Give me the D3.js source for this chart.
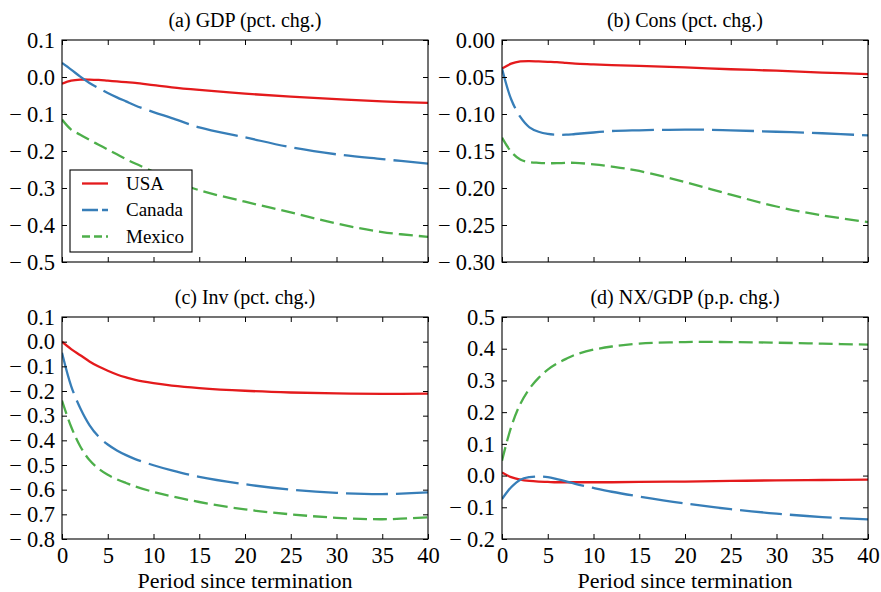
<!DOCTYPE html>
<html>
<head>
<meta charset="utf-8">
<script src="https://cdn.jsdelivr.net/npm/d3@7"></script>
<style>
  body { margin: 0; background: #fff; }
  svg { display: block; }
  svg text { font-family: 'Liberation Serif', 'DejaVu Serif', 'Noto Serif', serif; fill: #000; }
</style>
</head>
<body>
<svg id="chart" width="881" height="592" font-family="'Liberation Serif', 'DejaVu Serif', serif"></svg>
<script>
// Periods after termination at which each response is recorded
const periods = [0, 1, 2, 3, 4, 5, 6, 7, 8, 10, 12, 15, 20, 25, 30, 35, 40];

// (a) GDP, percent change
const gdpUSA    = [-0.018, -0.010, -0.007, -0.007, -0.008, -0.010, -0.012, -0.014, -0.016, -0.022, -0.028, -0.035, -0.045, -0.053, -0.060, -0.066, -0.070];
const gdpCanada = [0.038, 0.020, 0.001, -0.016, -0.030, -0.043, -0.055, -0.066, -0.077, -0.095, -0.111, -0.136, -0.163, -0.190, -0.209, -0.222, -0.234];
const gdpMexico = [-0.115, -0.142, -0.156, -0.170, -0.183, -0.196, -0.209, -0.222, -0.234, -0.256, -0.279, -0.306, -0.337, -0.366, -0.396, -0.419, -0.432];

// (b) Consumption, percent change
const consUSA    = [-0.0385, -0.032, -0.029, -0.0285, -0.029, -0.0295, -0.030, -0.031, -0.032, -0.033, -0.034, -0.035, -0.037, -0.0395, -0.0415, -0.044, -0.046];
const consCanada = [-0.0385, -0.080, -0.104, -0.118, -0.124, -0.127, -0.128, -0.128, -0.127, -0.125, -0.123, -0.122, -0.121, -0.122, -0.124, -0.126, -0.129];
const consMexico = [-0.132, -0.151, -0.1615, -0.165, -0.166, -0.1665, -0.1665, -0.166, -0.166, -0.168, -0.171, -0.177, -0.192, -0.209, -0.225, -0.237, -0.246];

// (c) Investment, percent change
const invUSA    = [0.000, -0.030, -0.055, -0.080, -0.101, -0.118, -0.133, -0.145, -0.155, -0.168, -0.178, -0.188, -0.199, -0.206, -0.210, -0.212, -0.211];
const invCanada = [-0.045, -0.180, -0.270, -0.338, -0.385, -0.417, -0.441, -0.460, -0.476, -0.501, -0.522, -0.548, -0.578, -0.600, -0.613, -0.618, -0.611];
const invMexico = [-0.239, -0.345, -0.425, -0.480, -0.515, -0.540, -0.558, -0.573, -0.587, -0.609, -0.627, -0.650, -0.680, -0.700, -0.714, -0.720, -0.712];

// (d) Net exports over GDP, percentage-point change
const nxUSA    = [0.010, -0.005, -0.013, -0.017, -0.019, -0.020, -0.021, -0.021, -0.021, -0.021, -0.021, -0.020, -0.019, -0.017, -0.015, -0.014, -0.013];
const nxCanada = [-0.074, -0.037, -0.013, -0.005, -0.003, -0.005, -0.011, -0.018, -0.026, -0.039, -0.051, -0.066, -0.088, -0.106, -0.120, -0.131, -0.138];
const nxMexico = [0.047, 0.153, 0.226, 0.274, 0.308, 0.334, 0.353, 0.368, 0.381, 0.397, 0.407, 0.416, 0.421, 0.421, 0.419, 0.416, 0.413];

// Axis ticks
const xTicks    = [0, 5, 10, 15, 20, 25, 30, 35, 40];
const gdpTicks  = [0.1, 0.0, -0.1, -0.2, -0.3, -0.4, -0.5];
const consTicks = [0.00, -0.05, -0.10, -0.15, -0.20, -0.25, -0.30];
const invTicks  = [0.1, 0.0, -0.1, -0.2, -0.3, -0.4, -0.5, -0.6, -0.7, -0.8];
const nxTicks   = [0.5, 0.4, 0.3, 0.2, 0.1, 0.0, -0.1, -0.2];

const countries = ["USA", "Canada", "Mexico"];
const colors = { USA: "#e41a1c", Canada: "#377eb8", Mexico: "#4daf4a" };
const dashes = { USA: null, Canada: "42,8", Mexico: "14,6" };

const SERIF = "'Liberation Serif', 'DejaVu Serif', serif";
const W = 366, H = 222;
const panels = [
  { id: "a", title: "(a) GDP (pct. chg.)", left: 62, top: 40, ticks: gdpTicks, fmt: ".1f",
    series: { USA: gdpUSA, Canada: gdpCanada, Mexico: gdpMexico }, xLabels: false, legend: true },
  { id: "b", title: "(b) Cons (pct. chg.)", left: 502, top: 40, ticks: consTicks, fmt: ".2f",
    series: { USA: consUSA, Canada: consCanada, Mexico: consMexico }, xLabels: false },
  { id: "c", title: "(c) Inv (pct. chg.)", left: 62, top: 317, ticks: invTicks, fmt: ".1f",
    series: { USA: invUSA, Canada: invCanada, Mexico: invMexico }, xLabels: true },
  { id: "d", title: "(d) NX/GDP (p.p. chg.)", left: 502, top: 317, ticks: nxTicks, fmt: ".1f",
    series: { USA: nxUSA, Canada: nxCanada, Mexico: nxMexico }, xLabels: true }
];

const svg = d3.select("#chart");

// widen the gap after a leading minus sign
function spaceMinus(sel) {
  sel.each(function () {
    const t = d3.select(this);
    const s = t.text();
    if (s.startsWith("\u2212")) {
      t.text(null);
      t.append("tspan").text("\u2212");
      t.append("tspan").attr("dx", 5).text(s.slice(1));
    }
  });
}

panels.forEach(p => {
  const g = svg.append("g").attr("transform", `translate(${p.left},${p.top})`);
  const x = d3.scaleLinear().domain([0, 40]).range([0, W]);
  const y = d3.scaleLinear().domain(d3.extent(p.ticks)).range([H, 0]);
  const fmt = d3.format(p.fmt);

  g.append("clipPath").attr("id", "clip-" + p.id)
    .append("rect").attr("width", W).attr("height", H);

  // response lines
  const line = d3.line().x((d, i) => x(periods[i])).y(d => y(d)).curve(d3.curveCatmullRom.alpha(0.5));
  const lines = g.append("g").attr("clip-path", `url(#clip-${p.id})`);
  countries.forEach(c => {
    lines.append("path")
      .attr("d", line(p.series[c]))
      .attr("fill", "none")
      .attr("stroke", colors[c])
      .attr("stroke-width", 2.3)
      .attr("stroke-dasharray", dashes[c]);
  });

  // inward ticks on all four sides
  const left = g.append("g")
    .call(d3.axisLeft(y).tickValues(p.ticks).tickFormat(fmt).tickSizeInner(-5).tickSizeOuter(0).tickPadding(7));
  const right = g.append("g").attr("transform", `translate(${W},0)`)
    .call(d3.axisRight(y).tickValues(p.ticks).tickFormat("").tickSizeInner(-5).tickSizeOuter(0));
  const top = g.append("g")
    .call(d3.axisTop(x).tickValues(xTicks).tickFormat("").tickSizeInner(-5).tickSizeOuter(0));
  const bottom = g.append("g").attr("transform", `translate(0,${H})`)
    .call(d3.axisBottom(x).tickValues(xTicks).tickFormat(p.xLabels ? d3.format("d") : "")
      .tickSizeInner(-5).tickSizeOuter(0).tickPadding(8));

  [left, right, top, bottom].forEach(a => {
    a.select(".domain").remove();
    a.selectAll("line").attr("stroke", "#000").attr("stroke-width", 1);
    a.attr("font-family", SERIF).attr("font-size", 22.5);
    a.selectAll("text").attr("fill", "#000");
  });
  left.selectAll("text").call(spaceMinus);

  // frame
  g.append("rect").attr("width", W).attr("height", H)
    .attr("fill", "none").attr("stroke", "#000").attr("stroke-width", 1.1);

  // title
  g.append("text").attr("x", W / 2).attr("y", -13)
    .attr("text-anchor", "middle").attr("font-family", SERIF).attr("font-size", 20).text(p.title);

  if (p.xLabels) {
    g.append("text").attr("x", W / 2).attr("y", H + 49)
      .attr("text-anchor", "middle").attr("font-family", SERIF).attr("font-size", 22)
      .text("Period since termination");
  }

  if (p.legend) {
    const lg = g.append("g").attr("transform", "translate(8,130)");
    lg.append("rect").attr("width", 122).attr("height", 82)
      .attr("fill", "#fff").attr("stroke", "#000").attr("stroke-width", 1.1);
    countries.forEach((c, i) => {
      const ly = 13.5 + i * 26.5;
      lg.append("line").attr("x1", 12).attr("x2", 38).attr("y1", ly).attr("y2", ly)
        .attr("stroke", colors[c]).attr("stroke-width", 2.3)
        .attr("stroke-dasharray", c === "Canada" ? "16,4" : c === "Mexico" ? "8,4" : null);
      lg.append("text").attr("x", 56).attr("y", ly + 6)
        .attr("font-family", SERIF).attr("font-size", 19).text(c);
    });
  }
});
</script>
</body>
</html>
